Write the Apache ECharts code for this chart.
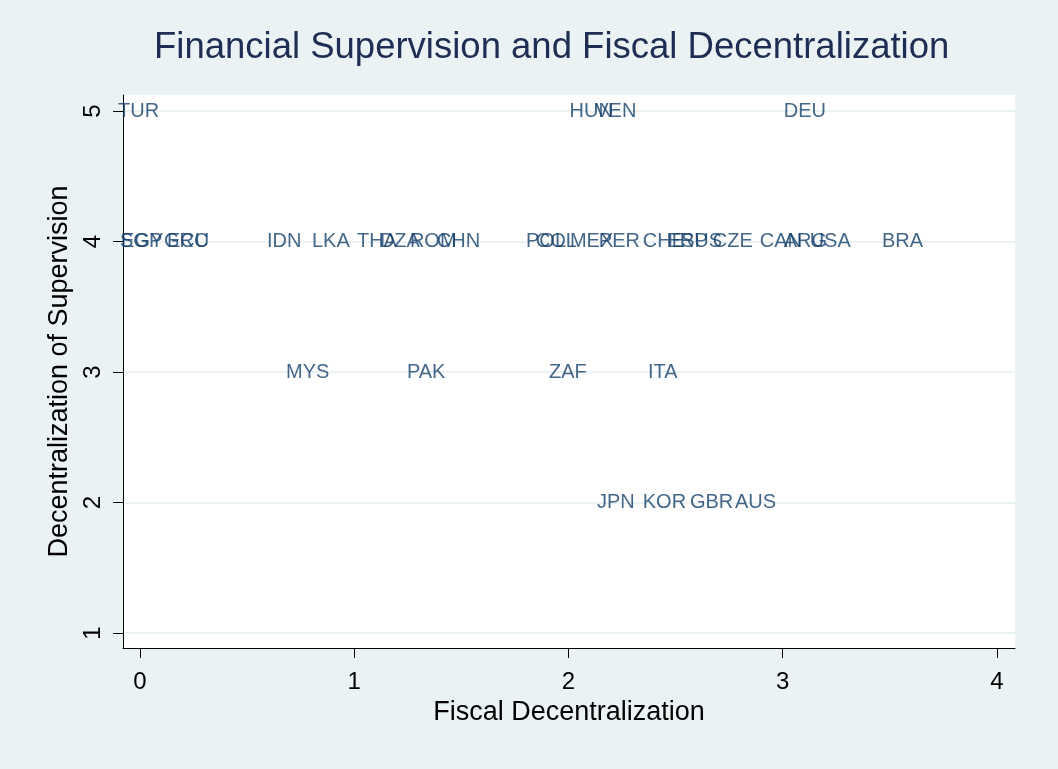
<!DOCTYPE html>
<html>
<head>
<meta charset="utf-8">
<title>Financial Supervision and Fiscal Decentralization</title>
<script src="https://cdn.jsdelivr.net/npm/echarts@6/dist/echarts.min.js"></script>
<style>
  html, body { margin: 0; padding: 0; background: #eaf2f3; }
  #chart { width: 1058px; height: 769px; }
</style>
</head>
<body>
<div id="chart"></div>
<script>
// country codes (marker labels)
const countries = [
  'TUR', 'HUN', 'VEN', 'DEU',
  'SGP', 'EGY', 'GRC', 'ECU', 'IDN', 'LKA', 'THA', 'DZA', 'ROM', 'CHN',
  'POL', 'COL', 'MEX', 'PER', 'CHE', 'ESP', 'RUS', 'CZE',
  'CAN', 'ARG', 'USA', 'BRA',
  'MYS', 'PAK', 'ZAF', 'ITA',
  'JPN', 'KOR', 'GBR', 'AUS'
]
// fiscal decentralization (x)
const fiscal = [
  -0.107, 2.0, 2.12, 3.0,
  -0.098, -0.093, 0.107, 0.121, 0.588, 0.798, 1.008, 1.115, 1.255, 1.381,
  1.797, 1.843, 2.002, 2.137, 2.342, 2.459, 2.515, 2.669,
  2.888, 3.0, 3.121, 3.458,
  0.677, 1.241, 1.904, 2.366,
  2.128, 2.342, 2.562, 2.772
]
// decentralization of supervision (y)
const supervision = [
  5, 5, 5, 5,
  4, 4, 4, 4, 4, 4, 4, 4, 4, 4,
  4, 4, 4, 4, 4, 4, 4, 4,
  4, 4, 4, 4,
  3, 3, 3, 3,
  2, 2, 2, 2
]
const xTicks = [0, 1, 2, 3, 4]
const yTicks = [1, 2, 3, 4, 5]

const chart = echarts.init(document.getElementById('chart'))

const points = countries.map((name, i) => [fiscal[i], supervision[i], name])

const option = {
  backgroundColor: '#eaf2f3',
  textStyle: { fontFamily: 'Liberation Sans, Arial, sans-serif' },
  title: {
    text: 'Financial Supervision and Fiscal Decentralization',
    left: 149,
    top: 24,
    textStyle: { color: '#1e2d53', fontSize: 36.5, fontWeight: 'normal' }
  },
  grid: {
    left: 123,
    top: 95,
    width: 892,
    height: 553,
    show: true,
    backgroundColor: '#ffffff',
    borderWidth: 0
  },
  xAxis: {
    type: 'value',
    min: -0.0793,
    max: 4.084,
    name: 'Fiscal Decentralization',
    nameLocation: 'middle',
    nameGap: 46,
    nameTextStyle: { color: '#000', fontSize: 27 },
    axisLine: { show: true, onZero: false, lineStyle: { color: '#000', width: 1 } },
    axisTick: { show: true, length: 10, customValues: xTicks, lineStyle: { color: '#000' } },
    axisLabel: { customValues: xTicks, color: '#000', fontSize: 24, margin: 22 },
    splitLine: { show: false }
  },
  yAxis: {
    type: 'value',
    min: 0.885,
    max: 5.1226,
    name: 'Decentralization of Supervision',
    nameLocation: 'middle',
    nameGap: 44,
    nameTextStyle: { color: '#000', fontSize: 27 },
    axisLine: { show: true, onZero: false, lineStyle: { color: '#000', width: 1 } },
    axisTick: { show: true, length: 10, customValues: yTicks, lineStyle: { color: '#000' } },
    axisLabel: { customValues: yTicks, color: '#000', fontSize: 24, margin: 18, rotate: 90 },
    splitLine: { show: true, lineStyle: { color: '#eaf2f3', width: 2 } }
  },
  series: [
    {
      type: 'scatter',
      data: points,
      symbolSize: 0,
      clip: false,
      label: {
        show: true,
        position: 'right',
        distance: 1,
        formatter: (p) => p.data[2],
        color: '#15406a',
        fontSize: 20
      },
      emphasis: { disabled: true }
    }
  ]
}

chart.setOption(option)
</script>
</body>
</html>
